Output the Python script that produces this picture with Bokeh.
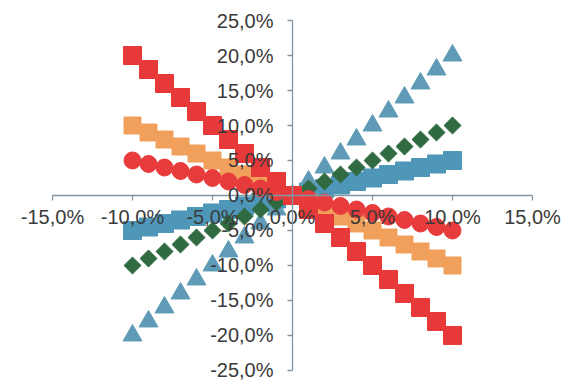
import numpy as np
from bokeh.plotting import figure
from bokeh.models import Range1d, FixedTicker, CustomJSTickFormatter
from bokeh.embed import file_html
from bokeh.resources import INLINE

# x positions in percent, shared by every series
x_pct = [-10, -9, -8, -7, -6, -5, -4, -3, -2, -1, 0, 1, 2, 3, 4, 5, 6, 7, 8, 9, 10]

# series values in percent
half_up = [-5.0, -4.5, -4.0, -3.5, -3.0, -2.5, -2.0, -1.5, -1.0, -0.5, 0.0,
           0.5, 1.0, 1.5, 2.0, 2.5, 3.0, 3.5, 4.0, 4.5, 5.0]
one_up = [-10, -9, -8, -7, -6, -5, -4, -3, -2, -1, 0, 1, 2, 3, 4, 5, 6, 7, 8, 9, 10]
double_up = [-20, -18, -16, -14, -12, -10, -8, -6, -4, -2, 0,
             2, 4, 6, 8, 10, 12, 14, 16, 18, 20]
half_down = [5.0, 4.5, 4.0, 3.5, 3.0, 2.5, 2.0, 1.5, 1.0, 0.5, 0.0,
             -0.5, -1.0, -1.5, -2.0, -2.5, -3.0, -3.5, -4.0, -4.5, -5.0]
one_down = [10, 9, 8, 7, 6, 5, 4, 3, 2, 1, 0, -1, -2, -3, -4, -5, -6, -7, -8, -9, -10]
double_down = [20, 18, 16, 14, 12, 10, 8, 6, 4, 2, 0,
               -2, -4, -6, -8, -10, -12, -14, -16, -18, -20]

x_ticks = [-15, -10, -5, 0, 5, 10, 15]
y_ticks = [-25, -20, -15, -10, -5, 0, 5, 10, 15, 20, 25]

# the frame fills the whole canvas; the axes are bounded to +-15% / +-25%
p = figure(width=566, height=386, output_backend="svg", toolbar_location=None,
           x_range=Range1d(-18.25, 17.125), y_range=Range1d(-27.29, 27.86),
           min_border_left=0, min_border_right=0,
           min_border_top=0, min_border_bottom=0)
p.background_fill_color = "white"
p.border_fill_color = "white"
p.outline_line_color = None
p.grid.visible = False

# markers, back to front
p.scatter(x_pct, half_up, marker="square", size=18, color="#4f97b8")
p.scatter(x_pct, double_up, marker="triangle", size=19, color="#5f9bb6")
p.scatter(x_pct, one_up, marker="square", angle=np.pi / 4, size=12, color="#2f6a40")
p.scatter(x_pct, one_down, marker="square", size=17, color="#f1a05c")
p.scatter(x_pct, half_down, marker="circle", size=17, color="#e83b3c")
p.scatter(x_pct, double_down, marker="square", size=18, color="#e8393a")

fmt = CustomJSTickFormatter(code="return tick.toFixed(1).replace('.', ',') + '%';")

axis_color = "#8196a2"
for ax in (p.xaxis[0], p.yaxis[0]):
    ax.fixed_location = 0
    ax.formatter = fmt
    ax.axis_line_color = axis_color
    ax.axis_line_width = 1.3
    ax.major_tick_line_color = axis_color
    ax.major_tick_line_width = 1.3
    ax.major_tick_in = 0
    ax.major_tick_out = 5
    ax.minor_tick_line_color = None
    ax.major_label_text_font = "Liberation Sans"
    ax.major_label_text_font_size = "20px"
    ax.major_label_text_color = "#3a3a3a"

p.xaxis[0].ticker = FixedTicker(ticks=x_ticks)
p.yaxis[0].ticker = FixedTicker(ticks=y_ticks)
p.xaxis[0].bounds = (x_ticks[0], x_ticks[-1])
p.yaxis[0].bounds = (y_ticks[0], y_ticks[-1])
p.xaxis[0].major_label_standoff = 6
p.yaxis[0].major_label_standoff = 14

open("out.html", "w").write(file_html(p, INLINE))
